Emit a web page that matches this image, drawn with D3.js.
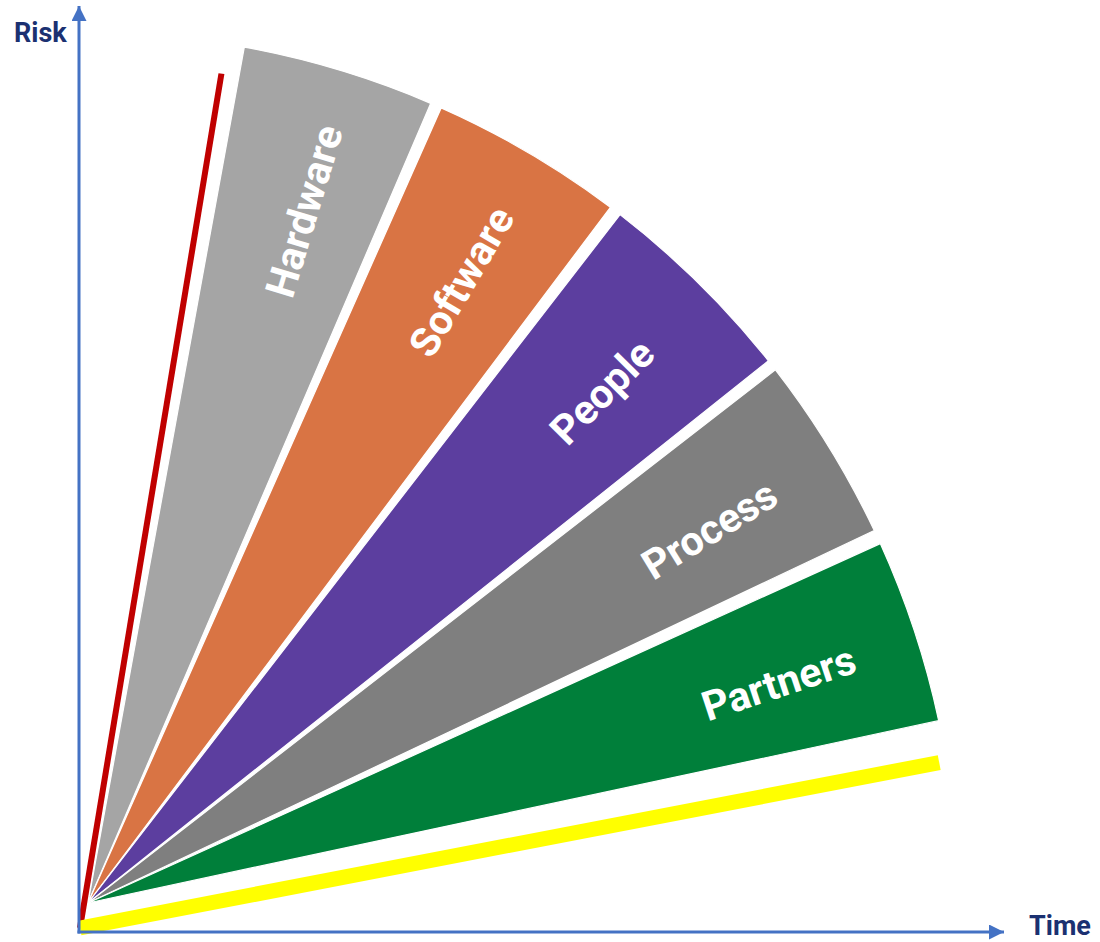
<!DOCTYPE html>
<html lang="en">
<head>
  <meta charset="UTF-8">
  <title>Risk over Time</title>
  <script src="https://d3js.org/d3.v7.min.js"></script>
  <style>
    body { margin: 0; background: #fff; }
    svg { display: block; font-family: Roboto, "Liberation Sans", sans-serif; }
    .axis-label { font-size: 27px; font-weight: 700; fill: #1b3171; }
    .wedge-label { font-size: 41px; font-weight: 700; fill: #fff; }
  </style>
</head>
<body>
  <svg width="1100" height="942"></svg>
  <script>
    // wedges, angles in degrees measured up from the time axis
    const categories = ["Hardware", "Software", "People", "Process", "Partners"];
    const startDeg = [66.8, 53.1, 38.55, 25.35, 12.1];
    const endDeg = [79.65, 66.05, 52.3, 37.8, 24.4];
    const colors = ["#a5a5a5", "#d97444", "#5c3e9f", "#7f7f7f", "#007f3a"];

    // the two boundary lines (angle in degrees, length)
    const boundAngles = [80.6, 10.9];
    const boundLengths = [866, 875];
    const boundColors = ["#c00000", "#ffff00"];
    const boundWidths = [6, 15];

    const axisTitles = ["Risk", "Time"];

    const svg = d3.select("svg");
    const axisColor = "#4472c4";

    // fan centre and axis origin
    const fanX = 88, fanY = 903;
    const originX = 79, originY = 932;
    const outerR = 870;

    // degrees above the time axis -> d3 arc angle (clockwise from 12 o'clock)
    const ang = d3.scaleLinear().domain([0, 90]).range([Math.PI / 2, 0]);

    const arc = d3.arc()
      .innerRadius(0)
      .outerRadius(outerR);

    const wedges = categories.map((c, i) => ({
      name: c,
      color: colors[i],
      startAngle: ang(endDeg[i]),
      endAngle: ang(startDeg[i]),
      mid: (startDeg[i] + endDeg[i]) / 2
    }));

    const fan = svg.append("g").attr("transform", `translate(${fanX},${fanY})`);

    fan.selectAll("path.wedge")
      .data(wedges)
      .enter().append("path")
      .attr("class", "wedge")
      .attr("d", arc)
      .attr("fill", d => d.color)
      .attr("stroke", "#fff")
      .attr("stroke-width", 1.2);

    fan.selectAll("text.wedge-label")
      .data(wedges)
      .enter().append("text")
      .attr("class", "wedge-label")
      .attr("text-anchor", "middle")
      .attr("dominant-baseline", "central")
      .attr("transform", d => {
        const a = d.mid - 0.6;
        const p = d3.pointRadial(ang(a), 725);
        return `translate(${p[0]},${p[1]}) rotate(${-d.mid})`;
      })
      .text(d => d.name);

    // boundary lines drawn from the axis origin
    const bounds = boundAngles.map((a, i) => ({
      angle: a, len: boundLengths[i], color: boundColors[i], width: boundWidths[i]
    }));
    const lineGen = d3.line();
    const bg = svg.append("g").attr("transform", `translate(${originX + 1},${originY - 4})`);
    bg.selectAll("path")
      .data(bounds)
      .enter().append("path")
      .attr("d", d => lineGen([[0, 0], d3.pointRadial(ang(d.angle), d.len)]))
      .attr("stroke", d => d.color)
      .attr("stroke-width", d => d.width)
      .attr("fill", "none");

    // axes with arrow heads
    const defs = svg.append("defs");
    defs.append("marker")
      .attr("id", "arrow")
      .attr("viewBox", "0 0 10 10")
      .attr("refX", 10).attr("refY", 5)
      .attr("markerWidth", 5).attr("markerHeight", 5)
      .attr("markerUnits", "strokeWidth")
      .attr("orient", "auto")
      .append("path")
      .attr("d", "M0,0 L10,5 L0,10 Z")
      .attr("fill", axisColor);

    svg.append("line")
      .attr("x1", originX).attr("y1", originY + 1.5)
      .attr("x2", originX).attr("y2", 6)
      .attr("stroke", axisColor).attr("stroke-width", 3)
      .attr("marker-end", "url(#arrow)");

    svg.append("line")
      .attr("x1", originX - 1.5).attr("y1", originY)
      .attr("x2", 1004).attr("y2", originY)
      .attr("stroke", axisColor).attr("stroke-width", 3)
      .attr("marker-end", "url(#arrow)");

    svg.append("text")
      .attr("class", "axis-label")
      .attr("x", 14).attr("y", 42)
      .text(axisTitles[0]);

    svg.append("text")
      .attr("class", "axis-label")
      .attr("x", 1029).attr("y", 935)
      .text(axisTitles[1]);
  </script>
</body>
</html>
